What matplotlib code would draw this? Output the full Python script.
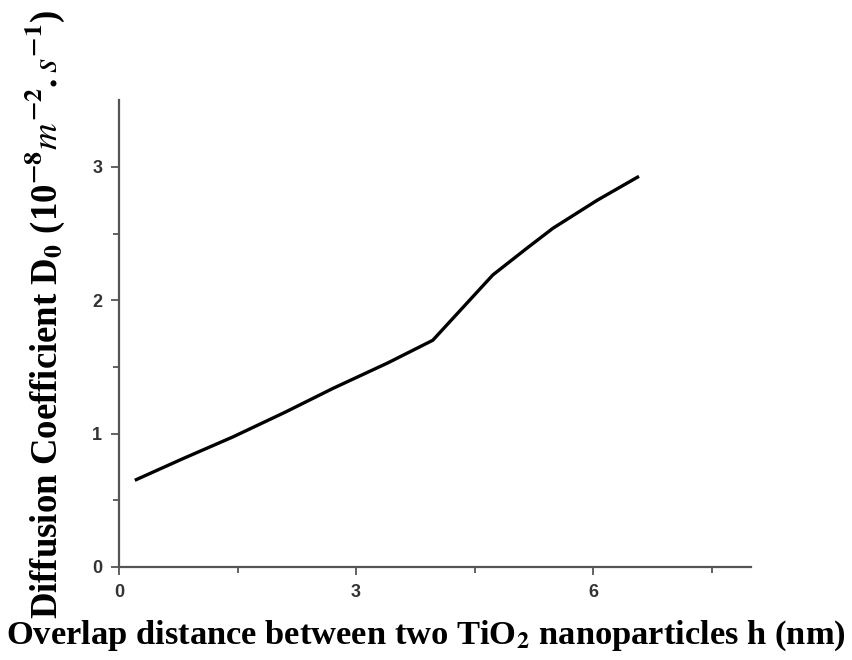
import matplotlib
matplotlib.use("Agg")
import matplotlib.pyplot as plt

# values
h = [0.2, 0.8, 1.44, 2.1, 2.71, 3.4, 3.97, 4.73, 5.16, 5.49, 6.05, 6.58]
d0 = [0.65, 0.81, 0.975, 1.16, 1.34, 1.53, 1.70, 2.19, 2.39, 2.54, 2.75, 2.93]
xticks = [0, 3, 6]
yticks = [0, 1, 2, 3]

plt.rcParams["mathtext.fontset"] = "stix"
plt.rcParams["mathtext.default"] = "bf"

fig = plt.figure(figsize=(8.52, 6.6), dpi=100)
ax = fig.add_axes([0.1397, 0.141, 0.742, 0.707])
ax.plot(h, d0, color="black", lw=2.4, solid_capstyle="butt")

ax.set_xlim(0, 8.0)
ax.set_ylim(0, 3.5)
ax.set_xticks(xticks)
ax.set_yticks(yticks)
ax.set_xticks([1.5, 4.5, 7.5], minor=True)
ax.set_yticks([0.5, 1.5, 2.5], minor=True)

for s in ["top", "right"]:
    ax.spines[s].set_visible(False)
for s in ["left", "bottom"]:
    ax.spines[s].set_color("#555555")
    ax.spines[s].set_linewidth(1.6)
ax.tick_params(which="major", direction="out", length=6, width=1.3, color="#555555", pad=6)
ax.tick_params(which="minor", direction="out", length=4, width=1.3, color="#555555")
for lab in ax.get_xticklabels() + ax.get_yticklabels():
    lab.set_fontfamily("Liberation Sans")
    lab.set_fontweight("bold")
    lab.set_fontsize(13)
    lab.set_color("#333333")

fig.text(0.5, 0.036, "Overlap distance between two TiO$_2$ nanoparticles h (nm)",
         ha="center", va="center", fontsize=24.8, fontweight="bold",
         family="Liberation Serif")
fig.text(0.052, 0.524,
         r"Diffusion Coefficient D$_0$ (10$^{-8}\mathit{m}^{-2}.\mathit{s}^{-1}$)",
         ha="center", va="center", rotation=90, fontsize=26.5, fontweight="bold",
         family="Liberation Serif")

fig.savefig("out.png", dpi=100)
